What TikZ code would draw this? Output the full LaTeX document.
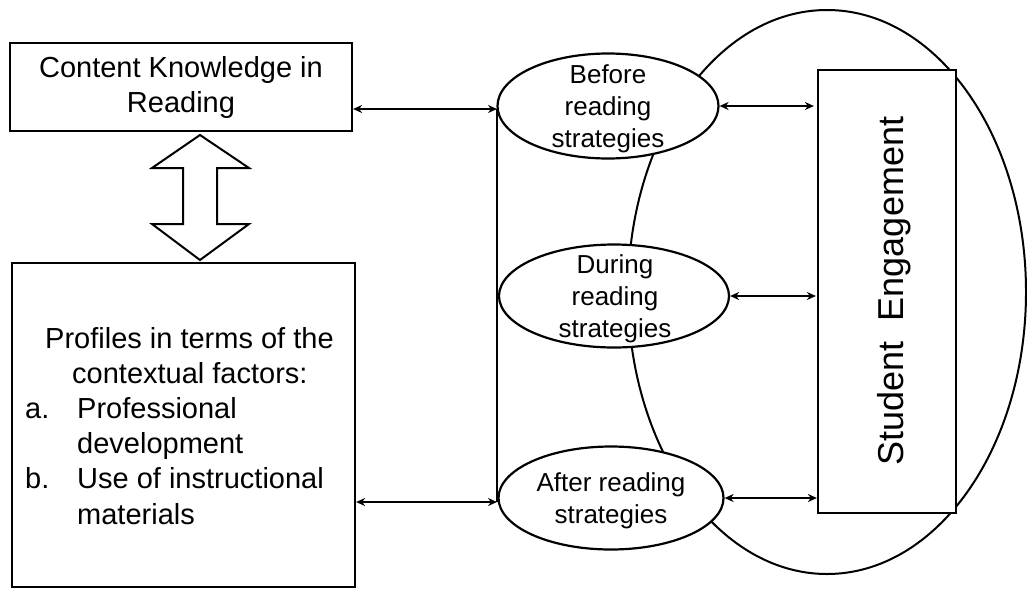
\documentclass[tikz,border=0pt]{standalone}
\usepackage{fontspec}
\setmainfont{Liberation Sans}
\usetikzlibrary{shapes.geometric,arrows.meta}
\begin{document}
\begin{tikzpicture}[x=1pt,y=-1pt,
  box/.style={draw,line width=2.2pt,fill=white,inner sep=0pt},
  strat/.style={ellipse,draw,line width=2.2pt,fill=white,inner sep=0pt},
  strattext/.style={align=center,inner sep=0pt,font=\fontsize{26}{32}\selectfont},
  proftext/.style={anchor=base west,inner sep=0pt,font=\fontsize{29}{35}\selectfont},
  conn/.style={line width=1.6pt,{Stealth[length=9pt,width=8pt]}-{Stealth[length=9pt,width=8pt]}},
  ]
\useasboundingbox (0,0) rectangle (1027,592);
% large enclosing ellipse
\draw[line width=2pt] (827,292) ellipse [x radius=199pt, y radius=282pt];
% left boxes
\node[box,minimum width=342pt,minimum height=88pt,align=center,
      font=\fontsize{29}{35}\selectfont] (ck) at (181,87) {Content Knowledge in\\Reading};
\node[box,minimum width=343pt,minimum height=324pt] (prof) at (183.5,425) {};
\node[proftext] (p1) at (45,348) {Profiles in terms of the};
\node[proftext] (p2) at (72,383) {contextual factors:};
\node[proftext] (p3a) at (25,418) {a.};
\node[proftext] (p3) at (77,418) {Professional};
\node[proftext] (p4) at (77,453) {development};
\node[proftext] (p5a) at (25,488) {b.};
\node[proftext] (p5) at (77,488) {Use of instructional};
\node[proftext] (p6) at (77,524) {materials};
% block double arrow between the boxes
\draw[line width=2pt,fill=white,line join=miter]
  (200,135) -- (249,168) -- (217,168) -- (217,224) -- (249,224) -- (200,260)
  -- (152,224) -- (183,224) -- (183,168) -- (152,168) -- cycle;
% strategy ellipses
\node[strat,minimum width=221pt,minimum height=105pt] (bef) at (608,106) {};
\node[strattext] (beft) at (608,109) {Before\\reading\\strategies};
\node[strat,minimum width=230pt,minimum height=103pt] (dur) at (614,296) {};
\node[strattext] (durt) at (615,298.5) {During\\reading\\strategies};
\node[strat,minimum width=225pt,minimum height=103pt] (aft) at (611,498) {};
\node[strattext] (aftt) at (611,500.5) {After reading\\strategies};
% student engagement box
\node[box,minimum width=138pt,minimum height=443pt] (se) at (887,291.5) {};
\node[rotate=90,anchor=base,inner sep=0pt,font=\fontsize{36}{40}\selectfont] (set) at (903,291) {Student\ \ Engagement};
% connectors on the left
\coordinate (jt) at (497,109);
\coordinate (jb) at (497,502);
\draw[line width=1.8pt] (jt) -- (jb);
\draw[conn] (ck.east |- jt) -- (jt);
\draw[conn] (prof.east |- jb) -- (jb);
% connectors on the right
\draw[conn] (bef.east) -- ([xshift=-3pt]bef.east -| se.west);
\draw[conn] (dur.east) -- ([xshift=-1pt]dur.east -| se.west);
\draw[conn] (aft.east) -- (aft.east -| se.west);
\end{tikzpicture}
\end{document}
